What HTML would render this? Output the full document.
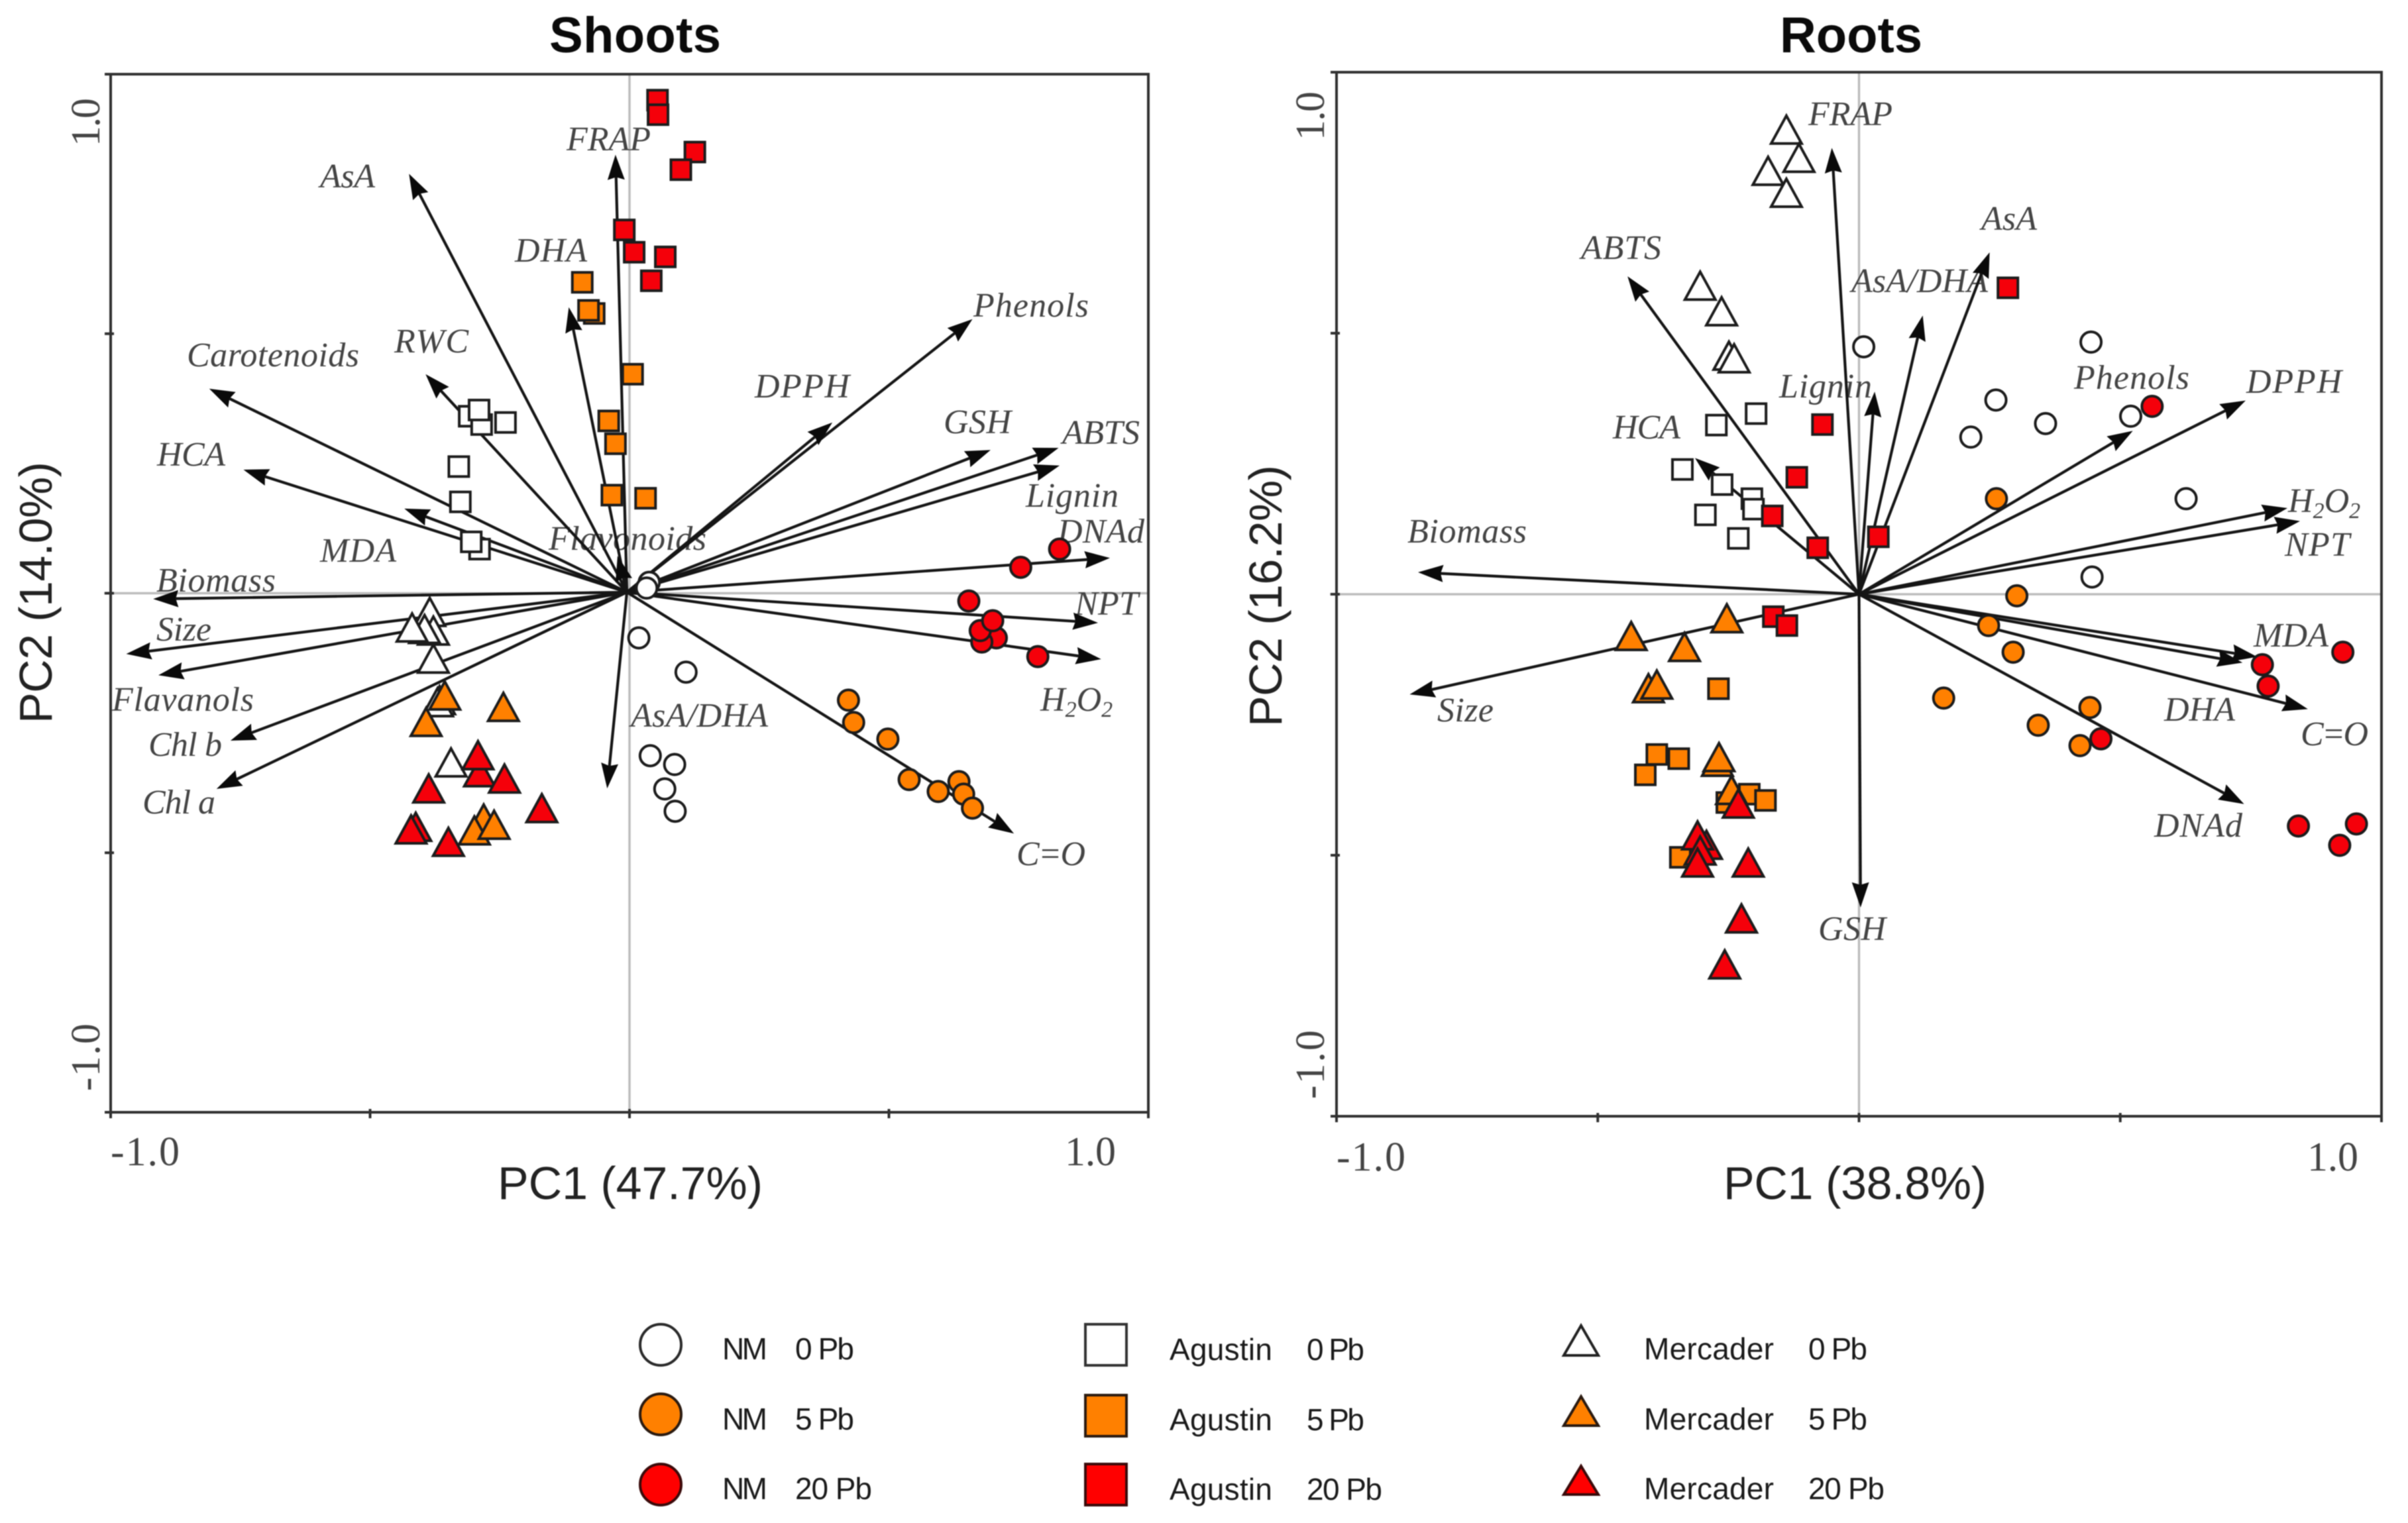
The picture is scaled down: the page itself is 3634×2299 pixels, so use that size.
<!DOCTYPE html>
<html lang="en">
<head>
<meta charset="utf-8">
<title>PCA biplots of shoots and roots</title>
<style>
html,body{margin:0;padding:0;background:#fff;}
svg{display:block;filter:blur(0.8px);}
.v{font-family:"Liberation Serif",serif;font-style:italic;font-size:52px;fill:#444;}
.t{font-family:"Liberation Serif",serif;font-size:62px;fill:#444;}
.a{font-family:"Liberation Sans",sans-serif;font-size:70px;fill:#222;}
.h{font-family:"Liberation Sans",sans-serif;font-size:76px;font-weight:bold;fill:#0a0a0a;}
.l{font-family:"Liberation Sans",sans-serif;font-size:46px;fill:#1a1a1a;}
</style>
</head>
<body>
<svg xmlns="http://www.w3.org/2000/svg" width="3634" height="2299" viewBox="0 0 3634 2299">
<rect x="0" y="0" width="3634" height="2299" fill="#fff"/>

<text class="h" x="829" y="79" textLength="259">Shoots</text>
<text class="h" x="2686" y="79" textLength="215">Roots</text>

<g id="shoots-axes"></g>
<g id="roots-axes"></g>

<text class="a" x="751" y="1810" textLength="400">PC1 (47.7%)</text>
<text class="a" x="2601" y="1810" textLength="397">PC1 (38.8%)</text>
<text class="a" transform="translate(78,1092) rotate(-90)" textLength="395">PC2 (14.0%)</text>
<text class="a" transform="translate(1934,1097) rotate(-90)" textLength="395">PC2 (16.2%)</text>

<text class="t" x="167" y="1759" textLength="104">-1.0</text>
<text class="t" x="1607" y="1759" textLength="77">1.0</text>
<text class="t" transform="translate(150,221) rotate(-90)" textLength="73">1.0</text>
<text class="t" transform="translate(150,1647) rotate(-90)" textLength="102">-1.0</text>
<text class="t" x="2017" y="1767" textLength="104">-1.0</text>
<text class="t" x="3482" y="1767" textLength="77">1.0</text>
<text class="t" transform="translate(1998,212) rotate(-90)" textLength="74">1.0</text>
<text class="t" transform="translate(1998,1659) rotate(-90)" textLength="104">-1.0</text>

<g>
<text class="v" x="855" y="227" textLength="127">FRAP</text>
<text class="v" x="483" y="283" textLength="83">AsA</text>
<text class="v" x="777" y="395" textLength="109">DHA</text>
<text class="v" x="595" y="532" textLength="112">RWC</text>
<text class="v" x="282" y="553" textLength="260">Carotenoids</text>
<text class="v" x="237" y="703" textLength="103">HCA</text>
<text class="v" x="483" y="848" textLength="115">MDA</text>
<text class="v" x="828" y="830" textLength="238">Flavonoids</text>
<text class="v" x="236" y="893" textLength="180">Biomass</text>
<text class="v" x="236" y="967" textLength="83">Size</text>
<text class="v" x="169" y="1073" textLength="214">Flavanols</text>
<text class="v" x="224" y="1141" textLength="111">Chl b</text>
<text class="v" x="215" y="1228" textLength="110">Chl a</text>
<text class="v" x="1469" y="478" textLength="174">Phenols</text>
<text class="v" x="1139" y="600" textLength="143">DPPH</text>
<text class="v" x="1424" y="654" textLength="102">GSH</text>
<text class="v" x="1603" y="670" textLength="117">ABTS</text>
<text class="v" x="1548" y="765" textLength="140">Lignin</text>
<text class="v" x="1596" y="819" textLength="131">DNAd</text>
<text class="v" x="1622" y="928" textLength="96">NPT</text>
<text class="v" x="1570" y="1073">H<tspan dy="9" font-size="34">2</tspan><tspan dy="-9">O</tspan><tspan dy="9" font-size="34">2</tspan></text>
<text class="v" x="1534" y="1306" textLength="104">C=O</text>
<text class="v" x="952" y="1097" textLength="207">AsA/DHA</text>
</g>

<g>
<text class="v" x="2729" y="189" textLength="127">FRAP</text>
<text class="v" x="2386" y="391" textLength="121">ABTS</text>
<text class="v" x="2990" y="347" textLength="84">AsA</text>
<text class="v" x="2794" y="441" textLength="206">AsA/DHA</text>
<text class="v" x="2685" y="600" textLength="140">Lignin</text>
<text class="v" x="3130" y="587" textLength="174">Phenols</text>
<text class="v" x="3390" y="593" textLength="144">DPPH</text>
<text class="v" x="2434" y="662" textLength="102">HCA</text>
<text class="v" x="3453" y="773">H<tspan dy="9" font-size="34">2</tspan><tspan dy="-9">O</tspan><tspan dy="9" font-size="34">2</tspan></text>
<text class="v" x="3448" y="839" textLength="98">NPT</text>
<text class="v" x="2124" y="819" textLength="180">Biomass</text>
<text class="v" x="2169" y="1089" textLength="85">Size</text>
<text class="v" x="2744" y="1419" textLength="102">GSH</text>
<text class="v" x="3401" y="976" textLength="113">MDA</text>
<text class="v" x="3266" y="1088" textLength="107">DHA</text>
<text class="v" x="3472" y="1125" textLength="102">C=O</text>
<text class="v" x="3251" y="1263" textLength="133">DNAd</text>
</g>

<g id="shoots-arrows"></g>
<g id="roots-arrows"></g>
<g id="shoots-points"></g>
<g id="roots-points"></g>

<g>
<circle cx="997" cy="2030" r="31" fill="#fff" stroke="#2a2a2a" stroke-width="4"/>
<circle cx="997" cy="2135" r="31" fill="#ff8000" stroke="#2a1a10" stroke-width="4"/>
<circle cx="997" cy="2241" r="31" fill="#ff0000" stroke="#3a0a0a" stroke-width="4"/>
<text class="l" x="1090" y="2052" textLength="68">NM</text>
<text class="l" x="1200" y="2052" textLength="89">0 Pb</text>
<text class="l" x="1090" y="2158" textLength="68">NM</text>
<text class="l" x="1200" y="2158" textLength="89">5 Pb</text>
<text class="l" x="1090" y="2263" textLength="68">NM</text>
<text class="l" x="1200" y="2263" textLength="116">20 Pb</text>

<rect x="1638" y="1999" width="62" height="62" fill="#fff" stroke="#333" stroke-width="4"/>
<rect x="1638" y="2106" width="62" height="62" fill="#ff8000" stroke="#2a1a10" stroke-width="4"/>
<rect x="1638" y="2210" width="62" height="62" fill="#ff0000" stroke="#3a0a0a" stroke-width="4"/>
<text class="l" x="1765" y="2053" textLength="155">Agustin</text>
<text class="l" x="1972" y="2053" textLength="87">0 Pb</text>
<text class="l" x="1765" y="2159" textLength="155">Agustin</text>
<text class="l" x="1972" y="2159" textLength="87">5 Pb</text>
<text class="l" x="1765" y="2264" textLength="155">Agustin</text>
<text class="l" x="1972" y="2264" textLength="114">20 Pb</text>

<polygon points="2386,2001 2412,2046 2360,2046" fill="#fff" stroke="#222" stroke-width="4"/>
<polygon points="2386,2108 2412,2152 2360,2152" fill="#ff8000" stroke="#2a1a10" stroke-width="4"/>
<polygon points="2386,2213 2412,2256 2360,2256" fill="#ff0000" stroke="#3a0a0a" stroke-width="4"/>
<text class="l" x="2481" y="2052" textLength="196">Mercader</text>
<text class="l" x="2729" y="2052" textLength="89">0 Pb</text>
<text class="l" x="2481" y="2158" textLength="196">Mercader</text>
<text class="l" x="2729" y="2158" textLength="89">5 Pb</text>
<text class="l" x="2481" y="2263" textLength="196">Mercader</text>
<text class="l" x="2729" y="2263" textLength="115">20 Pb</text>
</g>
</svg>

<script>
const tickValues = [-1, -0.5, 0, 0.5, 1];

/* Shoots loadings */
const shootsVariables = ["AsA","FRAP","DHA","RWC","Carotenoids","HCA","MDA","Flavonoids","Biomass","Size","Flavanols","Chl b","Chl a","Phenols","DPPH","GSH","ABTS","Lignin","DNAd","NPT","H2O2","C=O","AsA/DHA"];
const shootsLoadPC1 = [-0.425,-0.027,-0.117,-0.393,-0.810,-0.744,-0.434,-0.023,-0.918,-0.970,-0.908,-0.769,-0.796,0.661,0.391,0.696,0.827,0.829,0.926,0.903,0.909,0.741,-0.043];
const shootsLoadPC2 = [0.808,0.845,0.551,0.422,0.394,0.238,0.163,0.072,-0.011,-0.117,-0.158,-0.284,-0.377,0.528,0.329,0.276,0.280,0.246,0.068,-0.057,-0.127,-0.463,-0.376];
const shootsOrigin = [-0.005, 0.002];

/* Shoots scores: [PC1, PC2] */
const shootsNM0 = [[0.038,0.021],[0.033,0.010],[0.018,-0.086],[0.109,-0.152],[0.040,-0.313],[0.087,-0.330],[0.068,-0.377],[0.088,-0.420]];
const shootsNM5 = [[0.422,-0.206],[0.432,-0.249],[0.498,-0.281],[0.539,-0.359],[0.595,-0.382],[0.635,-0.363],[0.644,-0.387],[0.661,-0.414]];
const shootsNM20 = [[0.829,0.085],[0.754,0.050],[0.654,-0.015],[0.707,-0.086],[0.679,-0.094],[0.676,-0.072],[0.700,-0.053],[0.787,-0.122]];
const shootsAgustin0 = [[-0.309,0.341],[-0.285,0.325],[-0.290,0.353],[-0.239,0.329],[-0.329,0.244],[-0.326,0.176],[-0.289,0.085],[-0.305,0.099]];
const shootsAgustin5 = [[-0.091,0.599],[-0.068,0.539],[-0.079,0.545],[0.006,0.422],[-0.040,0.332],[-0.027,0.288],[-0.034,0.189],[0.031,0.183]];
const shootsAgustin20 = [[0.054,0.950],[0.055,0.922],[0.126,0.850],[0.099,0.816],[-0.010,0.700],[0.009,0.657],[0.069,0.648],[0.042,0.602]];
const shootsMercader0 = [[-0.385,-0.036],[-0.378,-0.072],[-0.395,-0.069],[-0.419,-0.066],[-0.378,-0.126],[-0.366,-0.206],[-0.370,-0.210],[-0.344,-0.326]];
const shootsMercader5 = [[-0.356,-0.197],[-0.243,-0.219],[-0.392,-0.248],[-0.281,-0.434],[-0.299,-0.457],[-0.261,-0.446]];
const shootsMercader20 = [[-0.289,-0.345],[-0.292,-0.312],[-0.241,-0.357],[-0.387,-0.376],[-0.169,-0.414],[-0.412,-0.450],[-0.421,-0.455],[-0.349,-0.479]];

/* Roots loadings */
const rootsVariables = ["FRAP","ABTS","HCA","Lignin","AsA/DHA","AsA","Phenols","DPPH","H2O2","NPT","Biomass","Size","GSH","MDA","DHA","C=O","DNAd"];
const rootsLoadPC1 = [-0.052,-0.443,-0.314,0.030,0.122,0.250,0.524,0.740,0.820,0.844,-0.844,-0.860,0.003,0.762,0.734,0.859,0.737];
const rootsLoadPC2 = [0.855,0.609,0.261,0.388,0.534,0.655,0.313,0.371,0.165,0.140,0.042,-0.192,-0.600,-0.120,-0.131,-0.220,-0.402];
const rootsOrigin = [0, 0];

/* Roots scores: [PC1, PC2] */
const rootsNM0 = [[0.009,0.474],[0.444,0.483],[0.262,0.372],[0.214,0.301],[0.357,0.327],[0.520,0.341],[0.626,0.183],[0.446,0.033]];
const rootsNM5 = [[0.263,0.183],[0.302,-0.003],[0.248,-0.060],[0.295,-0.111],[0.162,-0.199],[0.442,-0.217],[0.343,-0.251],[0.423,-0.290]];
const rootsNM20 = [[0.561,0.360],[0.772,-0.135],[0.926,-0.111],[0.783,-0.176],[0.463,-0.277],[0.841,-0.444],[0.952,-0.440],[0.920,-0.481]];
const rootsAgustin0 = [[-0.197,0.346],[-0.273,0.324],[-0.338,0.239],[-0.262,0.210],[-0.205,0.183],[-0.202,0.163],[-0.294,0.152],[-0.231,0.107]];
const rootsAgustin5 = [[-0.269,-0.181],[-0.387,-0.307],[-0.345,-0.315],[-0.409,-0.346],[-0.210,-0.383],[-0.179,-0.395],[-0.253,-0.399],[-0.342,-0.504]];
const rootsAgustin20 = [[-0.070,0.325],[-0.119,0.224],[-0.166,0.150],[-0.079,0.089],[0.037,0.110],[0.285,0.587],[-0.164,-0.043],[-0.138,-0.060]];
const rootsMercader0 = [[-0.139,0.890],[-0.115,0.836],[-0.174,0.811],[-0.139,0.769],[-0.304,0.591],[-0.263,0.542],[-0.249,0.457],[-0.239,0.452]];
const rootsMercader5 = [[-0.253,-0.046],[-0.436,-0.080],[-0.334,-0.101],[-0.403,-0.180],[-0.387,-0.173],[-0.271,-0.321],[-0.268,-0.312],[-0.244,-0.375]];
const rootsMercader20 = [[-0.231,-0.401],[-0.292,-0.480],[-0.309,-0.462],[-0.304,-0.491],[-0.309,-0.514],[-0.212,-0.514],[-0.225,-0.621],[-0.257,-0.709]];

const NS = 'http://www.w3.org/2000/svg';
const COL_WHITE = '#ffffff', COL_ORANGE = '#ff8000', COL_RED = '#f5000a';

function mk(tag, attrs) {
  const el = document.createElementNS(NS, tag);
  for (const k in attrs) el.setAttribute(k, attrs[k]);
  return el;
}

function makeScales(left, right, top, bottom) {
  const cx = (left + right) / 2, cy = (top + bottom) / 2;
  return {
    left, right, top, bottom,
    x: v => cx + v * (right - left) / 2,
    y: v => cy - v * (bottom - top) / 2
  };
}

function drawAxes(group, s) {
  const g = document.getElementById(group);
  const hz = mk('line', {x1: s.left - 10, x2: s.right, y1: s.y(0), y2: s.y(0), stroke: '#bdbdbd', 'stroke-width': 3.5});
  
  
  g.appendChild(hz);
  const vt = mk('line', {x1: s.x(0), x2: s.x(0), y1: s.top, y2: s.bottom + 8, stroke: '#bdbdbd', 'stroke-width': 3.5});
  
  
  g.appendChild(vt);
  const frame = mk('rect', {x: s.left, y: s.top, width: s.right - s.left, height: s.bottom - s.top, fill: 'none', stroke: '#303030', 'stroke-width': 4});
  
  
  g.appendChild(frame);
  tickValues.forEach(v => {
    const tx = mk('line', {x1: s.x(v), x2: s.x(v), y1: s.bottom - 5, y2: s.bottom + 9, stroke: '#303030', 'stroke-width': 4});
    
    
    g.appendChild(tx);
    const ty = mk('line', {x1: s.left - 9, x2: s.left + 5, y1: s.y(v), y2: s.y(v), stroke: '#303030', 'stroke-width': 4});
    
    
    g.appendChild(ty);
  });
}

function drawArrows(group, s, names, pc1, pc2, origin) {
  const g = document.getElementById(group);
  const ox = s.x(origin[0]), oy = s.y(origin[1]);
  names.forEach((name, i) => {
    const tx = s.x(pc1[i]), ty = s.y(pc2[i]);
    const len = Math.hypot(tx - ox, ty - oy) || 1;
    const ux = (tx - ox) / len, uy = (ty - oy) / len;
    const px = -uy, py = ux;
    const headLen = 38, headHalf = 13, notch = 4;
    const bx = tx - ux * headLen, by = ty - uy * headLen;
    const nx = tx - ux * (headLen - notch), ny = ty - uy * (headLen - notch);
    const shaft = mk('line', {x1: ox, y1: oy, x2: nx, y2: ny, stroke: '#151515', 'stroke-width': 4.2});
    
    
    g.appendChild(shaft);
    const head = mk('polygon', {
      points: [tx, ty, bx + px * headHalf, by + py * headHalf, nx, ny, bx - px * headHalf, by - py * headHalf].join(' '),
      fill: '#0a0a0a'
    });
    
    
    g.appendChild(head);
  });
}

function drawPoints(group, s, values, shape, fill) {
  const g = document.getElementById(group);
  values.forEach(p => {
    const x = s.x(p[0]), y = s.y(p[1]);
    let el;
    if (shape === 'circle') {
      el = mk('circle', {cx: x, cy: y, r: 15.5});
    } else if (shape === 'square') {
      el = mk('rect', {x: x - 15, y: y - 15, width: 30, height: 30});
    } else {
      el = mk('polygon', {points: [x, y - 21, x + 23, y + 21, x - 23, y + 21].join(' ')});
    }
    el.setAttribute('fill', fill);
    el.setAttribute('stroke', '#1c1c1c');
    el.setAttribute('stroke-width', 4);
    
    
    g.appendChild(el);
  });
}

const shootsScale = makeScales(167, 1733, 112, 1679);
const rootsScale = makeScales(2017, 3594, 109, 1685);

drawAxes('shoots-axes', shootsScale);
drawAxes('roots-axes', rootsScale);
drawArrows('shoots-arrows', shootsScale, shootsVariables, shootsLoadPC1, shootsLoadPC2, shootsOrigin);
drawArrows('roots-arrows', rootsScale, rootsVariables, rootsLoadPC1, rootsLoadPC2, rootsOrigin);

drawPoints('shoots-points', shootsScale, shootsNM0, 'circle', COL_WHITE);
drawPoints('shoots-points', shootsScale, shootsNM5, 'circle', COL_ORANGE);
drawPoints('shoots-points', shootsScale, shootsNM20, 'circle', COL_RED);
drawPoints('shoots-points', shootsScale, shootsAgustin0, 'square', COL_WHITE);
drawPoints('shoots-points', shootsScale, shootsAgustin5, 'square', COL_ORANGE);
drawPoints('shoots-points', shootsScale, shootsAgustin20, 'square', COL_RED);
drawPoints('shoots-points', shootsScale, shootsMercader0, 'triangle', COL_WHITE);
drawPoints('shoots-points', shootsScale, shootsMercader5, 'triangle', COL_ORANGE);
drawPoints('shoots-points', shootsScale, shootsMercader20, 'triangle', COL_RED);

drawPoints('roots-points', rootsScale, rootsNM0, 'circle', COL_WHITE);
drawPoints('roots-points', rootsScale, rootsNM5, 'circle', COL_ORANGE);
drawPoints('roots-points', rootsScale, rootsNM20, 'circle', COL_RED);
drawPoints('roots-points', rootsScale, rootsAgustin0, 'square', COL_WHITE);
drawPoints('roots-points', rootsScale, rootsAgustin5, 'square', COL_ORANGE);
drawPoints('roots-points', rootsScale, rootsAgustin20, 'square', COL_RED);
drawPoints('roots-points', rootsScale, rootsMercader0, 'triangle', COL_WHITE);
drawPoints('roots-points', rootsScale, rootsMercader5, 'triangle', COL_ORANGE);
drawPoints('roots-points', rootsScale, rootsMercader20, 'triangle', COL_RED);
</script>
</body>
</html>
